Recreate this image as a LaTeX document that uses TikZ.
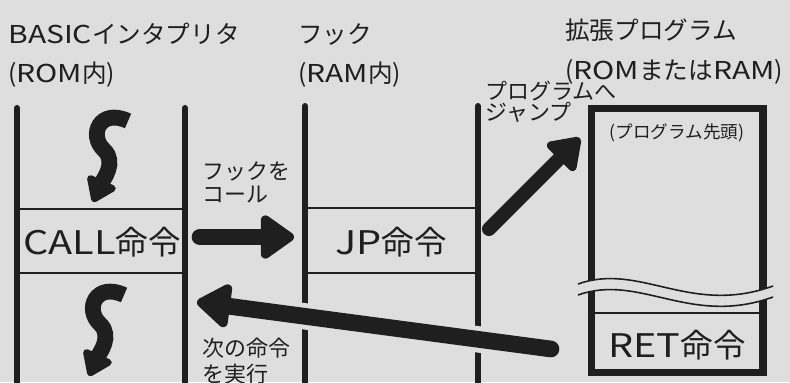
\documentclass[tikz,border=0pt]{standalone}
\usepackage{fontspec}
\setmainfont{Noto Sans CJK JP}
\newfontfamily\latw{Noto Sans CJK JP}[FakeStretch=1.22]
\newcommand{\wlat}[1]{{\latw #1}}
\usetikzlibrary{arrows.meta,positioning}
\definecolor{ink}{gray}{0.12}
\definecolor{paper}{gray}{0.87}
\tikzset{
    headtext/.style={font=\fontsize{14}{16}\selectfont, inner sep=0pt, anchor=west, text=ink},
    cmd/.style={font=\fontsize{18.5}{20}\selectfont, inner sep=0pt, text=ink},
    note/.style={font=\fontsize{12.5}{13}\selectfont, inner sep=0pt, anchor=west, align=left, text=ink},
    rail/.style={ink, line width=3.4pt, line cap=round},
    divline/.style={ink, line width=0.8pt},
    breakline/.style={ink, line width=0.9pt},
    bigflow/.style={ink, line width=9.5pt, line cap=round, -{Triangle[length=21pt, width=28pt, round]}},
    squig/.style={ink, line width=9pt, -{Triangle[length=15pt, width=20pt, round]}},
    halo/.style={paper, line width=15pt},
}
\begin{document}
\begin{tikzpicture}[x=0.02cm, y=-0.02cm]
    \fill[paper] (0,0) rectangle (790,382);
    \useasboundingbox (0,0) rectangle (790,382);

    % headings
    \node[headtext] (basic) at (8,34) {\wlat{BASIC}インタプリタ};
    \node[headtext] (basicmem) at ([yshift=-0.82cm]basic.west) {(\wlat{ROM}内)};
    \node[headtext] (hook) at (298,34) {フック};
    \node[headtext] (hookmem) at ([yshift=-0.82cm]hook.west) {(\wlat{RAM}内)};
    \node[headtext] (ext) at (565,30) {拡張プログラム};
    \node[headtext] (extmem) at ([yshift=-0.84cm]ext.west) {(\wlat{ROM}または\wlat{RAM})};

    % columns
    \draw[rail] (17,108) -- (17,386);
    \draw[rail] (185,108) -- (185,386);
    \draw[rail] (305,106) -- (305,386);
    \draw[rail] (478,106) -- (478,386);
    \draw[divline] (17,209) -- (185,209);
    \draw[divline] (17,273) -- (185,273);
    \draw[divline] (305,208) -- (478,208);
    \draw[divline] (305,273) -- (478,273);

    \node[cmd] (call) at (102,242) {\wlat{CALL}命令};
    \node[cmd] (jp) at (391,242) {\wlat{JP}命令};

    \foreach \dx/\dy in {0/0, -4/174}
        \draw[squig, shift={(\dx,\dy)}] (128,121) .. controls (100,108) and (88,135) .. (104,150)
            .. controls (117,162) and (103,180) .. (93,202);

    % extension program
    \node[draw=ink, line width=4pt, minimum width=3.44cm, minimum height=5.3cm, inner sep=0pt] (prog) at (677,240.5) {};
    \fill[paper] (578,284) .. controls (640,262) and (690,316) .. (773,286)
        -- (773,297) .. controls (690,327) and (640,273) .. (578,295) -- cycle;
    \draw[breakline] (578,284) .. controls (640,262) and (690,316) .. (773,286);
    \draw[breakline] (578,295) .. controls (640,273) and (690,327) .. (773,297);
    \coordinate (retrow) at (0,313);
    \draw[divline] (prog.west |- retrow) -- (prog.east |- retrow);
    \node[font=\fontsize{10}{12}\selectfont, inner sep=0pt, text=ink] (progtop) at (677,133) {(プログラム先頭)};
    \node[cmd] (ret) at (677,345) {\wlat{RET}命令};

    % flows
    \coordinate (callfrom) at (200,237);
    \coordinate (callto) at (294,237);
    \coordinate (jumpfrom) at (489,229);
    \coordinate (jumpto) at (580,138);
    \coordinate (backfrom) at (551,349);
    \coordinate (backto) at (197,302);

    \draw[bigflow] (callfrom) -- (callto);
    \draw[bigflow, line width=8pt, -{Triangle[length=19pt, width=25pt, round]}] (jumpfrom) -- (jumpto);
    \draw[halo, shorten >=25pt] (backfrom) -- (backto);
    \draw[bigflow] (backfrom) -- (backto);

    \node[note] (calllbl) at (202,182) {フックを\\コール};
    \node[note, font=\fontsize{12.5}{10.5}\selectfont] (jumplbl) at (485,102) {プログラムへ\\ジャンプ};
    \node[note, font=\fontsize{12.5}{14.5}\selectfont] (nextlbl) at (202,361) {次の命令\\を実行};
\end{tikzpicture}
\end{document}
